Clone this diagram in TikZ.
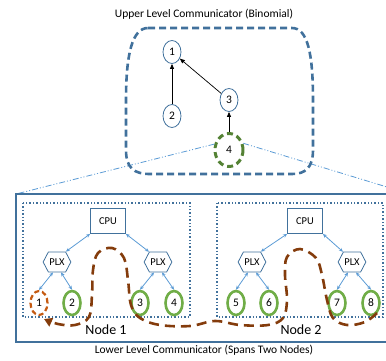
\documentclass[tikz,border=0pt]{standalone}
\usepackage{fontspec}
\setmainfont{Carlito}
\usetikzlibrary{shapes.geometric,shapes.symbols,arrows.meta,calc}
\definecolor{steel}{HTML}{41719C}
\definecolor{lblue}{HTML}{5B9BD5}
\definecolor{lgreen}{HTML}{70AD47}
\definecolor{dgreen}{HTML}{548235}
\definecolor{brownc}{HTML}{843C0C}
\definecolor{orangec}{HTML}{C55A11}
\tikzset{
  unode/.style={ellipse,draw=steel,line width=0.8pt,minimum width=18pt,minimum height=23pt,inner sep=0pt,font=\fontsize{11.5}{12}\selectfont},
  leaf/.style={ellipse,draw=lgreen,line width=2.6pt,minimum width=17pt,minimum height=24pt,inner sep=0pt,font=\fontsize{11.5}{12}\selectfont},
  cpubox/.style={rectangle,draw=steel,line width=0.8pt,minimum width=35pt,minimum height=25pt,inner sep=0pt,font=\fontsize{10.5}{12}\selectfont},
  plxbox/.style={signal,signal to=east and west,signal pointer angle=125,draw=steel,line width=0.8pt,minimum width=27pt,minimum height=20pt,inner sep=1pt,font=\fontsize{10.5}{12}\selectfont},
  bi/.style={{Stealth[length=4pt,width=3.5pt]}-{Stealth[length=4pt,width=3.5pt]},draw=lblue,line width=0.8pt},
  blk/.style={-{Triangle[length=5pt,width=4pt]},black,line width=0.7pt},
  nodebox/.style={draw=steel,dotted,line width=1.4pt},
  zoomline/.style={lblue,line width=0.8pt,dash pattern=on 6pt off 2pt on 1pt off 2pt on 1pt off 2pt},
  lbl/.style={font=\fontsize{11.5}{13}\selectfont},
}
\begin{document}
\begin{tikzpicture}[x=1pt,y=-1pt]
\useasboundingbox (0,0) rectangle (386,360);
\clip (0,0) rectangle (386,360);
% upper level
\node[lbl] (utitle) at (204,14) {Upper Level Communicator (Binomial)};
\node[unode] (n1) at (172,52) {1};
\node[unode] (n2) at (172,116) {2};
\node[unode] (n3) at (229,100) {3};
\node[ellipse,draw=dgreen,line width=3pt,dash pattern=on 6pt off 4pt,minimum width=28pt,minimum height=33pt,inner sep=0pt,font=\fontsize{11.5}{12}\selectfont] (n4) at (229,150) {4};
% zoom lines
\coordinate (bl) at (16,194);
\coordinate (br) at (410,194);
\draw[zoomline] (n4.158) -- (bl);
\draw[zoomline] (n4.25) -- (br);
\draw[steel,line width=2.6pt,dash pattern=on 7pt off 4pt]
  (148,28) -- (292,28) .. controls (308,28) and (313,55) .. (313,100) -- (313,150)
  .. controls (313,168) and (305,174) .. (292,174) -- (150,174)
  .. controls (134,174) and (126,168) .. (126,150) -- (126,100)
  .. controls (126,55) and (132,28) .. (148,28) -- cycle;
\draw[blk] (n2) -- (n1);
\draw[blk] (n3) -- (n1);
\draw[blk] (n4.north) -- (n3);
% lower level
\draw[steel,line width=1.3pt] (bl) rectangle (410,342);
\node[lbl] (ltitle) at (204,350) {Lower Level Communicator (Spans Two Nodes)};
\draw[nodebox] (23,203) rectangle (190,317);
\draw[nodebox] (217,203) rectangle (383,317);
\node[font=\fontsize{14}{16}\selectfont] (nl1) at (106,330) {Node 1};
\node[font=\fontsize{14}{16}\selectfont] (nl2) at (301,330) {Node 2};
% node 1
\node[cpubox] (c1) at (108,221) {CPU};
\node[plxbox] (p1) at (57,262) {PLX};
\node[plxbox] (p2) at (158,262) {PLX};
\node[ellipse,draw=orangec,line width=2.2pt,dash pattern=on 5pt off 3pt,minimum width=17pt,minimum height=24pt,inner sep=0pt,font=\fontsize{11.5}{12}\selectfont] (l1) at (39,303) {1};
\node[leaf] (l2) at (72,303) {2};
\node[leaf] (l3) at (140,303) {3};
\node[leaf] (l4) at (174,303) {4};
% node 2
\node[cpubox] (c2) at (305,221) {CPU};
\node[plxbox] (p3) at (252,262) {PLX};
\node[plxbox] (p4) at (352,262) {PLX};
\node[leaf] (l5) at (236,303) {5};
\node[leaf] (l6) at (269,303) {6};
\node[leaf] (l7) at (337,303) {7};
\node[leaf] (l8) at (371,303) {8};
% links
\foreach \c/\a/\b in {c1/p1/p2,c2/p3/p4}{
  \draw[bi] (\c.south west) -- (\a.north east);
  \draw[bi] (\c.south east) -- (\b.north west);
}
\foreach \p/\a/\b in {p1/l1/l2,p2/l3/l4,p3/l5/l6,p4/l7/l8}{
  \draw[bi] ([xshift=-4pt]\p.south) -- (\a.north);
  \draw[bi] ([xshift=4pt]\p.south) -- (\b.north);
}
% brown path
\coordinate (bstart) at (377,313);
\coordinate (bend) at (44,319);
\draw[brownc,line width=2.6pt,dash pattern=on 10pt off 6pt,-{Triangle[length=8pt,width=9pt]}]
  plot[smooth,tension=0.6] coordinates {(bstart) (365,322) (347,325) (333,318) (327,300) (322,275) (316,258) (300,249) (287,257) (285,275) (287,300) (283,318) (268,325) (240,325) (215,321) (190,326) (160,325) (140,318) (131,305) (128,280) (124,258) (112,248) (98,253) (93,270) (92,295) (89,317) (75,325) (58,324) (bend)};
\end{tikzpicture}
\end{document}
